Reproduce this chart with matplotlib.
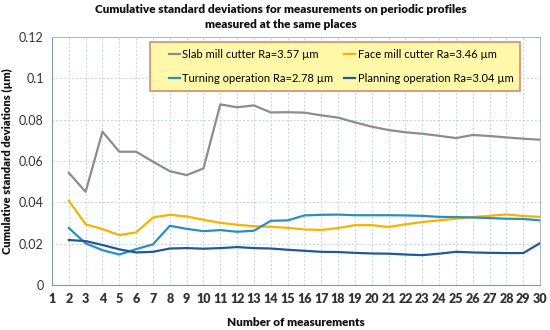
import matplotlib
matplotlib.use("Agg")
import matplotlib.pyplot as plt
from matplotlib.patches import Rectangle

plt.rcParams['font.family'] = ['Lato', 'DejaVu Sans']

n = list(range(2, 31))
slab = [0.0543, 0.0451, 0.0742, 0.0645, 0.0645, 0.0597, 0.0551, 0.0532, 0.0564,
        0.0874, 0.0860, 0.0869, 0.0835, 0.0836, 0.0834, 0.0821, 0.0810, 0.0787,
        0.0766, 0.0750, 0.0739, 0.0732, 0.0722, 0.0711, 0.0726, 0.0721, 0.0714,
        0.0708, 0.0703]
face = [0.0408, 0.0294, 0.0271, 0.0242, 0.0255, 0.0327, 0.0340, 0.0332, 0.0316,
        0.0301, 0.0292, 0.0285, 0.0282, 0.0277, 0.0269, 0.0267, 0.0276, 0.0290,
        0.0290, 0.0281, 0.0294, 0.0305, 0.0313, 0.0321, 0.0329, 0.0335, 0.0342,
        0.0334, 0.0330]
turning = [0.0276, 0.0202, 0.0169, 0.0148, 0.0174, 0.0197, 0.0287, 0.0272, 0.0261,
           0.0266, 0.0258, 0.0263, 0.0311, 0.0313, 0.0337, 0.0340, 0.0341, 0.0338,
           0.0338, 0.0338, 0.0337, 0.0335, 0.0330, 0.0329, 0.0327, 0.0324, 0.0321,
           0.0320, 0.0313]
planning = [0.0218, 0.0213, 0.0194, 0.0173, 0.0158, 0.0161, 0.0177, 0.0179, 0.0176,
            0.0179, 0.0184, 0.0179, 0.0177, 0.0171, 0.0166, 0.0161, 0.0160, 0.0156,
            0.0153, 0.0152, 0.0148, 0.0145, 0.0152, 0.0161, 0.0158, 0.0156, 0.0155,
            0.0155, 0.0203]
labels = ["Slab mill cutter Ra=3.57 µm", "Face mill cutter Ra=3.46 µm",
          "Turning operation Ra=2.78 µm", "Planning operation Ra=3.04 µm"]
colors = ["#8c8c8c", "#f5b400", "#2a8fc0", "#1f5a96"]
yticks = [0, 0.02, 0.04, 0.06, 0.08, 0.1, 0.12]
ylabels = ["0", "0.02", "0.04", "0.06", "0.08", "0.1", "0.12"]

fig = plt.figure(figsize=(5.5, 3.3), dpi=100)
ax = fig.add_axes([0.0945, 0.136, 0.8875, 0.752])

lines = []
for ys, lab, c in zip([slab, face, turning, planning], labels, colors):
    lines += ax.plot(n, ys, color=c, lw=1.6, label=lab)

ax.set_xlim(1, 30)
ax.set_ylim(0, 0.12)
ax.set_xticks(range(1, 31))
ax.set_yticks(yticks)
ax.set_yticklabels(ylabels)
ax.grid(True, ls=(0, (2, 2)), color="#c5d3dc", lw=0.7)
for s in ax.spines.values():
    s.set_color("#b0b8bd")
ax.spines['left'].set_color("#7f9cac")
ax.spines['bottom'].set_color("#7f9cac")
ax.tick_params(length=0, pad=6, labelsize=9, colors="#333333")
for t in ax.get_xticklabels():
    t.set_fontweight("heavy")

ax.set_xlabel("Number of measurements", fontsize=8.5, fontweight="heavy", labelpad=8, color="#111111")
ax.set_ylabel("Cumulative standard deviations (µm)", fontsize=8, fontweight="heavy", color="#111111")
fig.text(0.51, 0.988, "Cumulative standard deviations for measurements on periodic profiles\nmeasured at the same places",
         fontsize=8.5, fontweight="heavy", color="#111111", ha="center", va="top", linespacing=1.5)

# legend box drawn separately so the entries can sit with a wider left inset
ax.add_patch(Rectangle((0.2, 0.782), 0.759, 0.199, transform=ax.transAxes,
                       facecolor="#fff8a8", edgecolor="#d08f6a", lw=1.2, zorder=4))
# row-wise order: matplotlib fills columns first
order = [0, 2, 1, 3]
leg = ax.legend([lines[i] for i in order], [labels[i] for i in order],
                ncol=2, loc="center left", bbox_to_anchor=(0.232, 0.782, 0.72, 0.199),
                mode="expand", fontsize=8, frameon=False, handlelength=1.0,
                handletextpad=0.2, borderpad=0.3, labelspacing=1.2, columnspacing=2.0,
                borderaxespad=0)
leg.set_zorder(5)

fig.savefig("out.png", dpi=100)
